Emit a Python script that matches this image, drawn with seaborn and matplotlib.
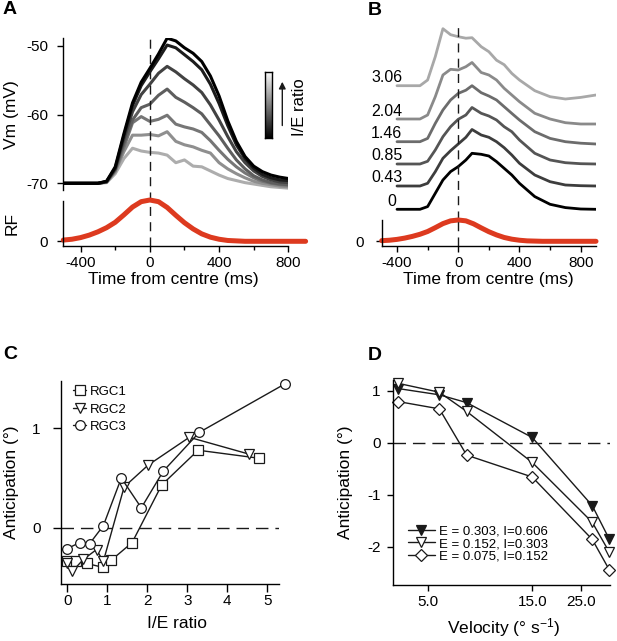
import numpy as np
import pandas as pd
import seaborn as sns
import matplotlib.pyplot as plt
from matplotlib.ticker import FixedLocator, NullLocator

# ---------------- data ----------------
# A: Vm traces, I/E ratio increasing from dark to light
t_a = [-500, -300, -250, -200, -150, -100, -50, 0, 50, 100, 150, 200,
       250, 300, 350, 400, 450, 500, 550, 600, 650, 700, 750, 800]
vm_1 = [-70, -70, -69.7, -67.6, -62.8, -58.3, -55.3, -53.3, -51.2, -48.9, -49.3, -50.3,
        -51.1, -52.3, -54.4, -57.3, -60.9, -63.9, -66.1, -67.5, -68.3, -68.8, -69.1, -69.3]
vm_2 = [-70, -70, -69.7, -67.8, -63.1, -58.7, -55.8, -53.8, -51.9, -49.9, -50.3, -51.3,
        -52.3, -53.5, -55.6, -58.4, -61.6, -64.4, -66.4, -67.8, -68.7, -69.2, -69.5, -69.6]
vm_3 = [-70, -70, -69.8, -67.9, -63.6, -59.6, -57.1, -55.6, -54.0, -53.0, -53.8, -54.8,
        -55.7, -56.8, -58.6, -60.8, -63.2, -65.4, -67.0, -68.2, -69.0, -69.5, -69.8, -69.9]
vm_4 = [-70, -70, -69.8, -68.0, -64.2, -60.8, -59.0, -58.5, -57.2, -56.3, -57.5, -58.2,
        -59.0, -59.9, -61.5, -63.1, -64.9, -66.6, -67.9, -68.9, -69.5, -69.9, -70.1, -70.2]
vm_5 = [-70, -70, -69.8, -68.2, -64.8, -61.2, -60.3, -61.0, -60.7, -60.1, -61.4, -61.8,
        -62.1, -62.6, -63.8, -65.2, -66.5, -67.6, -68.5, -69.2, -69.7, -70.0, -70.2, -70.3]
vm_6 = [-70, -70, -69.8, -68.3, -65.4, -63.0, -63.0, -62.9, -63.1, -62.5, -63.9, -64.4,
        -64.7, -65.2, -65.6, -67.0, -67.9, -68.6, -69.2, -69.7, -70.0, -70.2, -70.4, -70.5]
vm_7 = [-70, -70, -69.9, -68.6, -66.4, -64.9, -65.3, -65.5, -65.6, -65.9, -67.0, -66.6,
        -67.5, -67.6, -68.2, -68.8, -69.3, -69.6, -69.9, -70.1, -70.3, -70.5, -70.6, -70.7]
a_traces = [vm_1, vm_2, vm_3, vm_4, vm_5, vm_6, vm_7]

# receptive field profile (normalised)
t_rf = [-500, -450, -400, -350, -300, -250, -200, -150, -100, -50, 0, 50, 100, 150,
        200, 250, 300, 350, 400, 450, 500, 550, 600, 700, 800, 900]
rf = [0.03, 0.05, 0.09, 0.15, 0.23, 0.33, 0.46, 0.64, 0.83, 0.96, 1.0, 0.96, 0.82, 0.63,
      0.45, 0.30, 0.18, 0.10, 0.05, 0.02, 0.01, 0.0, 0.0, 0.0, 0.0, 0.0]

# B: traces (rise above each baseline) for different I/E ratios
t_b = [-400, -250, -200, -150, -100, -50, 0, 50, 90, 150, 200, 250, 300, 350, 400,
       500, 600, 700, 800, 900]
b_0 = [0, 0, 2.7, 16, 29.3, 37.7, 42.7, 49.3, 56, 55, 53.3, 47.7, 41, 34.3, 26,
       12.7, 5, 1.7, 0.3, 0]
b_043 = [0, 0, 2.7, 14.3, 27.7, 35.3, 42, 48.7, 56.5, 51, 48.7, 44.3, 38.3, 31, 22.7,
         11, 4.3, 1, 0.3, 0]
b_085 = [0, 0, 2.7, 14, 27.3, 37.3, 44.7, 49, 56.5, 50.7, 48, 44, 37.3, 32.3, 24,
         10.7, 4, 1.3, 0.3, 0]
b_146 = [0, 0, 3.3, 18.3, 31.7, 41.7, 48.3, 51.5, 56, 49, 45.7, 41.7, 35, 28.3, 21.7,
         10, 3.3, 0, -1.5, -2.3]
b_204 = [0, 0, 4, 22.3, 44, 49.7, 49, 52.3, 56.5, 46.5, 44, 39, 30.7, 24, 17.3,
         5.7, 0, -3.7, -5, -5]
b_306 = [0, 0, 5.7, 29, 57, 51, 49, 47.5, 48, 39, 34, 25.5, 21, 12.3, 5.7,
         -5, -11, -13.3, -11.7, -9.3]
b_traces = [b_0, b_043, b_085, b_146, b_204, b_306]
b_labels = ["0", "0.43", "0.85", "1.46", "2.04", "3.06"]

# C: anticipation vs I/E ratio
rgc1_x = [0, 0.21, 0.48, 0.9, 1.09, 1.62, 2.36, 3.27, 4.78]
rgc1_y = [-0.34, -0.34, -0.36, -0.40, -0.33, -0.15, 0.43, 0.78, 0.70]
rgc2_x = [0, 0.125, 0.4, 0.73, 0.9, 1.42, 2.02, 3.05, 4.55]
rgc2_y = [-0.36, -0.44, -0.32, -0.22, -0.34, 0.41, 0.63, 0.91, 0.74]
rgc3_x = [0, 0.31, 0.56, 0.9, 1.35, 1.85, 2.4, 3.3, 5.45]
rgc3_y = [-0.21, -0.15, -0.16, 0.02, 0.50, 0.20, 0.57, 0.96, 1.45]

# D: anticipation vs velocity
velocity = [3.67, 5.65, 7.53, 15.0, 28.2, 33.7]
d_hi = [1.04, 0.92, 0.77, 0.10, -1.21, -1.85]
d_mid = [1.14, 0.97, 0.60, -0.38, -1.53, -2.10]
d_lo = [0.79, 0.65, -0.24, -0.66, -1.86, -2.44]
d_labels = ["E = 0.303, I=0.606", "E = 0.152, I=0.303", "E = 0.075, I=0.152"]

# ---------------- style / layout ----------------
a_colors = ["#000000", "#1c1c1c", "#424242", "#5e5e5e", "#767676", "#8f8f8f", "#adadad"]
b_colors = ["#000000", "#3d3d3d", "#555555", "#6c6c6c", "#8a8a8a", "#a8a8a8"]
b_offsets = [0, 23.3, 45.3, 67.6, 90.3, 123.6]
b_label_x = [-405, -365, -365, -365, -365, -365]
rf_color = "#dd3a1f"

sns.set_theme(style="ticks")
plt.rcParams["font.family"] = ["Liberation Sans", "DejaVu Sans"]
plt.rcParams["mathtext.fontset"] = "custom"
plt.rcParams["mathtext.rm"] = "Liberation Sans"
plt.rcParams["mathtext.it"] = "Liberation Sans"
plt.rcParams["axes.unicode_minus"] = False
for k in ["axes.edgecolor", "text.color", "axes.labelcolor", "xtick.color", "ytick.color"]:
    plt.rcParams[k] = "black"
plt.rcParams.update({
    "axes.linewidth": 1.0, "xtick.major.width": 1.0, "ytick.major.width": 1.0,
    "xtick.minor.width": 1.0, "xtick.major.size": 4, "ytick.major.size": 4,
    "xtick.minor.size": 3, "xtick.labelsize": 11, "ytick.labelsize": 11,
    "axes.labelsize": 12.5, "xtick.direction": "out", "ytick.direction": "out",
})

W, H = 617, 641
fig = plt.figure(figsize=(W / 100, H / 100), dpi=100)


def rect(l, t, r, b):
    return [l / W, 1 - b / H, (r - l) / W, (b - t) / H]


def fpos(x, y):
    return (x / W, 1 - y / H)


dash_v = (0, (6.5, 4.5))
dash_h = (0, (9, 5))

ax_a = fig.add_axes(rect(63.3, 38.3, 288.3, 190))
ax_arf = fig.add_axes(rect(63.3, 201, 288.3, 245.7))
ax_b = fig.add_axes(rect(381.7, 20, 596, 215))
ax_brf = fig.add_axes(rect(381.7, 220, 596, 245.7))
ax_c = fig.add_axes(rect(61, 380.7, 279.3, 584))
ax_d = fig.add_axes(rect(393, 380, 610, 585))

# ---- A ----
df_a = pd.DataFrame({
    "t": t_a * len(a_traces),
    "vm": sum(a_traces, []),
    "trace": np.repeat(np.arange(len(a_traces)), len(t_a)),
})
sns.lineplot(data=df_a, x="t", y="vm", hue="trace",
             hue_order=list(range(len(a_traces)))[::-1],
             palette=dict(enumerate(a_colors)), lw=2.2, legend=False, ax=ax_a)
ax_a.axvline(0, ymin=-0.075, ymax=1, color="k", lw=1, ls=dash_v, clip_on=False)
ax_a.set_xlim(-500, 800)
ax_a.set_ylim(-70.97, -48.92)
ax_a.set_yticks([-70, -60, -50])
ax_a.set_xticks([])
ax_a.tick_params(axis="y", pad=7)
for s in ["top", "right", "bottom"]:
    ax_a.spines[s].set_visible(False)
ax_a.set_xlabel("")
ax_a.set_ylabel("Vm (mV)")
ax_a.yaxis.set_label_coords(-0.195, 0.5)

sns.lineplot(x=t_rf, y=rf, color=rf_color, lw=3.6, ax=ax_arf, clip_on=False)
ax_arf.axvline(0, color="k", lw=1, ls=dash_v)
ax_arf.set_xlim(-500, 800)
ax_arf.set_ylim(-0.1065, 0.976)
ax_arf.set_yticks([0])
ax_arf.tick_params(axis="y", pad=7)
ax_arf.xaxis.set_major_locator(FixedLocator([-400, 0, 400, 800]))
ax_arf.xaxis.set_minor_locator(FixedLocator([-200, 200, 600]))
ax_arf.spines["top"].set_visible(False)
ax_arf.spines["right"].set_visible(False)
ax_arf.set_ylabel("RF")
ax_arf.yaxis.set_label_coords(-0.195, 0.5)
ax_arf.set_xlabel("Time from centre (ms)", va="top")
ax_arf.xaxis.set_label_coords(0.489, -0.58)

# colour bar and arrow for I/E ratio
cax = fig.add_axes(rect(265.3, 71.7, 271.7, 138.3))
cax.imshow(np.linspace(0, 1, 256)[:, None], cmap="gray", aspect="auto", origin="lower")
cax.set_xticks([])
cax.set_yticks([])
for s in cax.spines.values():
    s.set_visible(True)
    s.set_linewidth(1)
ax_a.annotate("", xy=fpos(282.3, 79), xytext=fpos(282.3, 128.3),
              xycoords="figure fraction", textcoords="figure fraction",
              arrowprops=dict(arrowstyle="-|>", color="k", lw=1, mutation_scale=10))
fig.text(*fpos(299.5, 107), "I/E ratio", rotation=90, ha="center", va="center",
         fontsize=12)

# ---- B ----
df_b = pd.DataFrame({
    "t": t_b * len(b_traces),
    "v": np.concatenate([np.array(tr) + off for tr, off in zip(b_traces, b_offsets)]),
    "trace": np.repeat(np.arange(len(b_traces)), len(t_b)),
})
sns.lineplot(data=df_b, x="t", y="v", hue="trace", palette=dict(enumerate(b_colors)),
             lw=2.0, legend=False, ax=ax_b)
for lab, off, lx in zip(b_labels, b_offsets, b_label_x):
    ax_b.text(lx, off + 8, lab, ha="right", va="center", fontsize=11.5)
ax_b.axvline(0, ymin=-0.026, ymax=0.964, color="k", lw=1, ls=dash_v, clip_on=False)
ax_b.set_xlim(-500, 900)
ax_b.set_ylim(-5.7, 189.3)
ax_b.axis("off")

sns.lineplot(x=t_rf, y=rf, color=rf_color, lw=3.6, ax=ax_brf, clip_on=False)
ax_brf.axvline(0, color="k", lw=1, ls=dash_v)
ax_brf.set_xlim(-500, 900)
ax_brf.set_ylim(-0.2066, 1.0)
ax_brf.set_yticks([0])
ax_brf.tick_params(axis="y", pad=9)
ax_brf.xaxis.set_major_locator(FixedLocator([-400, 0, 400, 800]))
ax_brf.xaxis.set_minor_locator(FixedLocator([-200, 200, 600]))
ax_brf.spines["top"].set_visible(False)
ax_brf.spines["right"].set_visible(False)
ax_brf.set_xlabel("Time from centre (ms)", va="top")
ax_brf.xaxis.set_label_coords(0.497, -1.03)

# ---- C ----
mk = dict(color="k", lw=1, markersize=7, markerfacecolor="white",
          markeredgecolor="k", markeredgewidth=0.9, clip_on=False)
sns.lineplot(x=rgc1_x, y=rgc1_y, marker="s", label="RGC1", sort=False, ax=ax_c, **mk)
sns.lineplot(x=rgc2_x, y=rgc2_y, marker="v", label="RGC2", sort=False, ax=ax_c, **mk)
sns.lineplot(x=rgc3_x, y=rgc3_y, marker="o", label="RGC3", sort=False, ax=ax_c, **mk)
ax_c.axhline(0, color="k", lw=1, ls=dash_h, zorder=0)
ax_c.set_xlim(-0.158, 5.3)
ax_c.set_ylim(-0.567, 1.48)
ax_c.set_xticks([0, 1, 2, 3, 4, 5])
ax_c.set_yticks([0, 1])
ax_c.tick_params(axis="both", length=5.5)
ax_c.tick_params(axis="y", pad=9)
ax_c.tick_params(axis="x", pad=2)
ax_c.spines["top"].set_visible(False)
ax_c.spines["right"].set_visible(False)
ax_c.set_xlabel("I/E ratio", va="top")
ax_c.xaxis.set_label_coords(0.53, -0.155)
ax_c.set_ylabel("Anticipation (°)")
ax_c.yaxis.set_label_coords(-0.193, 0.5)
ax_c.legend(loc="upper left", bbox_to_anchor=(0.055, 0.975), frameon=False,
            fontsize=9.5, handlelength=1.0, handletextpad=0.25, labelspacing=0.4,
            borderpad=0, borderaxespad=0)

# ---- D ----
mk_d = dict(color="k", lw=1, markersize=7, markeredgecolor="k",
            markeredgewidth=0.9, clip_on=False)
sns.lineplot(x=velocity, y=d_hi, marker="v", markerfacecolor="k", label=d_labels[0],
             ax=ax_d, **mk_d)
sns.lineplot(x=velocity, y=d_mid, marker="v", markerfacecolor="white", label=d_labels[1],
             ax=ax_d, **mk_d)
sns.lineplot(x=velocity, y=d_lo, marker="D", markerfacecolor="white", label=d_labels[2],
             ax=ax_d, color="k", lw=1, markersize=6, markeredgecolor="k",
             markeredgewidth=0.9, clip_on=False)
ax_d.axhline(0, color="k", lw=1, ls=dash_h, zorder=0)
ax_d.set_xscale("log")
ax_d.set_xlim(3.47, 34.0)
ax_d.set_ylim(-2.737, 1.205)
ax_d.xaxis.set_major_locator(FixedLocator([5, 15, 25]))
ax_d.xaxis.set_minor_locator(NullLocator())
ax_d.set_xticklabels(["5.0", "15.0", "25.0"])
ax_d.set_yticks([-2, -1, 0, 1])
ax_d.tick_params(axis="y", pad=5)
ax_d.spines["top"].set_visible(False)
ax_d.spines["right"].set_visible(False)
ax_d.set_xlabel("Velocity (° s$^{-1}$)", va="top")
ax_d.xaxis.set_label_coords(0.508, -0.15)
ax_d.set_ylabel("Anticipation (°)")
ax_d.yaxis.set_label_coords(-0.184, 0.5)
ax_d.legend(loc="upper left", bbox_to_anchor=(0.07, 0.29), frameon=False,
            fontsize=9.5, handlelength=2.0, handletextpad=0.3, labelspacing=0.0,
            borderpad=0, borderaxespad=0)

# panel letters
for letter, (x, y) in zip("ABCD", [(3, 1), (368, 2), (3, 346), (368, 347)]):
    fig.text(*fpos(x, y), letter, fontsize=14, fontweight="bold", ha="left", va="top")

fig.savefig("out.png", dpi=100)
